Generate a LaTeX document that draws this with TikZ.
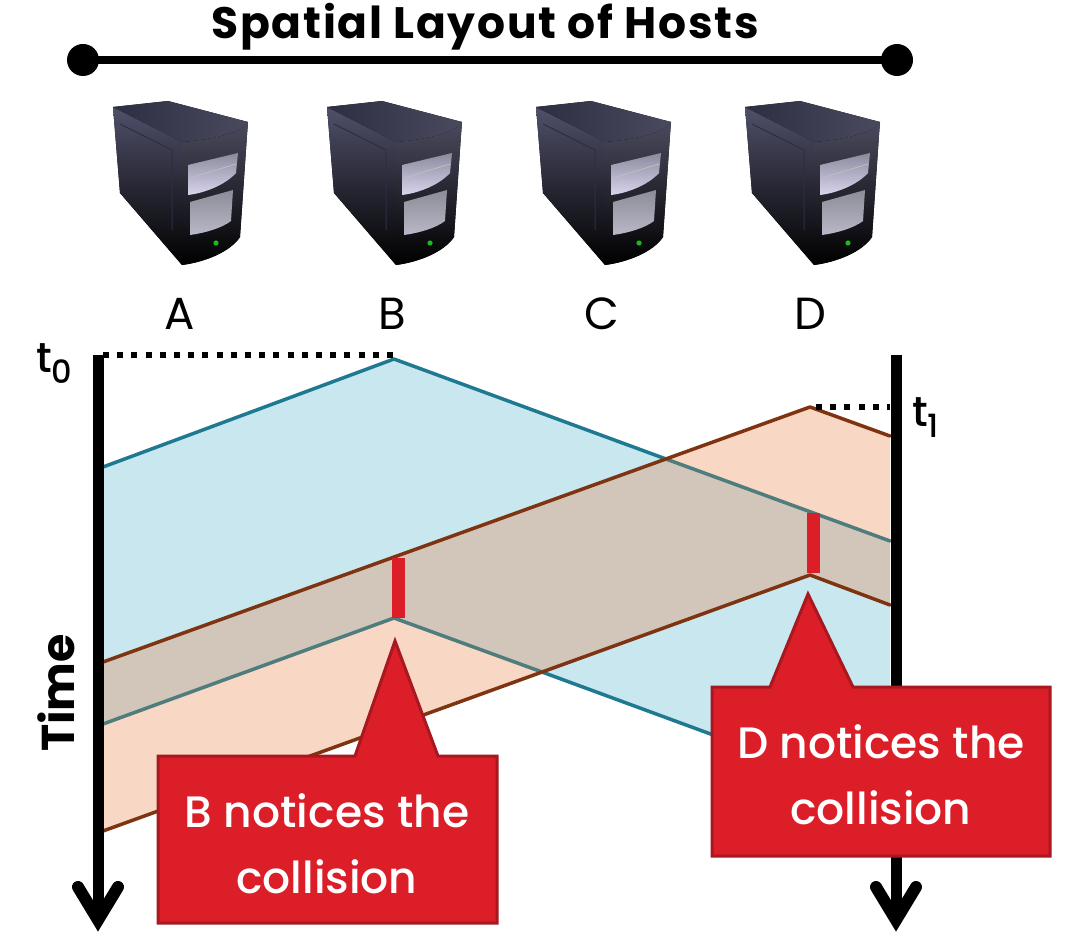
\documentclass[tikz,border=0pt]{standalone}
\usepackage{fontspec}
\setmainfont{Poppins}
\newfontfamily\medfont{Poppins Medium}
\definecolor{bluefill}{HTML}{C8E7EF}
\definecolor{orangefill}{HTML}{F8D7C4}
\definecolor{overlapfill}{HTML}{D2C5B9}
\definecolor{tealline}{HTML}{1F7A91}
\definecolor{tealdark}{HTML}{4F7C7C}
\definecolor{brownline}{HTML}{7E3410}
\definecolor{callred}{HTML}{DC1E28}
\definecolor{calledge}{HTML}{A81820}
\definecolor{hostside}{HTML}{50506A}
\definecolor{hosttopa}{HTML}{2E2E42}
\definecolor{hosttopb}{HTML}{4A4A5E}
\definecolor{hostbaya}{HTML}{8A8A9C}
\definecolor{hostbayb}{HTML}{D8D4EE}
\definecolor{hostbayc}{HTML}{8C8C98}
\definecolor{hostbayd}{HTML}{B8B8C8}
\tikzset{
  x=1pt,y=-1pt,
  every node/.style={inner sep=0pt,outer sep=0pt},
  axisline/.style={line width=11pt,black},
  axishead/.style={line width=12pt,black,line cap=round,miter limit=10},
  dotline/.style={line width=6pt,black,dash pattern=on 6pt off 8.2pt},
  wavet/.style={line width=3.5pt,tealline,line cap=round,line join=round},
  wavetd/.style={line width=3.5pt,tealdark,line cap=round,line join=round},
  waveb/.style={line width=3.5pt,brownline,line cap=round,line join=round},
  redbar/.style={callred},
  callout/.style={fill=callred,draw=calledge,line width=3pt,line join=miter},
  calltext/.style={text=white,font=\medfont\fontsize{44}{66}\selectfont,align=center},
  hostlabel/.style={font=\fontsize{45}{46}\selectfont,anchor=base},
  pics/hostbox/.style={code={
    \fill[black] (23,17) -- (78,11) -- (158,32) -- (157,45) -- (150,147)
      .. controls (140,162) and (115,172) .. (92,175) -- (30,103) -- cycle;
    \path[top color=hostside,bottom color=black]
      (23,17) -- (92,52) -- (92,175) -- (30,103) -- cycle;
    \path[left color=hosttopa,right color=hosttopb]
      (23,17) -- (78,11) -- (158,32) .. controls (150,45) and (115,50) .. (92,52) -- cycle;
    \draw[line width=1pt,hosttopa] (30,34) -- (82,60) -- (82,140);
    \path[top color=hosttopb,bottom color=black]
      (92,52) .. controls (115,50) and (150,45) .. (158,32) -- (157,45) -- (150,147)
      .. controls (140,162) and (115,172) .. (92,175) -- cycle;
    \path[top color=hostbaya,bottom color=hostbayb]
      (98,75) -- (148,63) -- (146,83) .. controls (135,95) and (115,103) .. (98,105) -- cycle;
    \draw[white!75!black,line width=.8pt] (100,88) -- (146,74);
    \path[top color=hostbayc,bottom color=hostbayd]
      (100,112) -- (143,100) -- (141,131) .. controls (132,138) and (115,143) .. (100,145) -- cycle;
    \fill[green!70!black!90!white] (126,153) circle (2.6);
  }}
}
\begin{document}
\begin{tikzpicture}
\useasboundingbox (0,0) rectangle (1065,952);

% spatial layout
\node[font=\bfseries\fontsize{44}{46}\selectfont\addfontfeatures{LetterSpace=4}] (title) at (485,27) {Spatial Layout of Hosts};
\coordinate (sl) at (83,60);
\coordinate (sr) at (897,60);
\draw[line width=8pt] (sl) -- (sr);
\fill (sl) circle (16);
\fill (sr) circle (16);

% hosts
\pic at (90,90) {hostbox};
\pic at (304,90) {hostbox};
\pic at (513,90) {hostbox};
\pic at (722,90) {hostbox};

\node[hostlabel] (la) at (180,329) {A};
\node[hostlabel] (lb) at (392,329) {B};
\node[hostlabel] (lc) at (602,329) {C};
\node[hostlabel] (ld) at (810,329) {D};

% wave coordinates
\coordinate (bApex) at (394,359);
\coordinate (bUL)   at (103,467);
\coordinate (bUR)   at (890,541);
\coordinate (bLApex) at (394,618);
\coordinate (bLL)   at (103,724);
\coordinate (bLR)   at (890,800);
\coordinate (dApex) at (810,407);
\coordinate (dUL)   at (103,662);
\coordinate (dUR)   at (890,436);
\coordinate (dLApex) at (810,575);
\coordinate (dLL)   at (103,831);
\coordinate (dLR)   at (890,605);
\coordinate (xU) at (666,459);
\coordinate (xL) at (542,672);

% fills
\fill[bluefill] (bUL) -- (bApex) -- (bUR) -- (bLR) -- (bLApex) -- (bLL) -- cycle;
\fill[orangefill] (dUL) -- (dApex) -- (dUR) -- (dLR) -- (dLApex) -- (dLL) -- cycle;
\begin{scope}
  \clip (bUL) -- (bApex) -- (bUR) -- (bLR) -- (bLApex) -- (bLL) -- cycle;
  \fill[overlapfill] (dUL) -- (dApex) -- (dUR) -- (dLR) -- (dLApex) -- (dLL) -- cycle;
\end{scope}

% edges
\draw[wavet] (bUL) -- (bApex) -- (xU);
\draw[wavetd] (xU) -- (bUR);
\draw[wavetd] (bLL) -- (bLApex) -- (xL);
\draw[wavet] (xL) -- (bLR);
\draw[waveb] (dUL) -- (dApex) -- (dUR);
\draw[waveb] (dLL) -- (dLApex) -- (dLR);

% detection bars
\fill[redbar] (392,558) rectangle (405,618);
\fill[redbar] (807,513) rectangle (820,573);

% axes
\coordinate (ltop) at (98,355);
\coordinate (lbot) at (98,922);
\coordinate (rtop) at (896,355);
\coordinate (rbot) at (896,922);
\draw[axisline] (ltop) -- (lbot);
\draw[axisline] (rtop) -- (rbot);
\draw[axishead] (78,887) -- (98,920) -- (118,887);
\draw[axishead] (876,887) -- (896,920) -- (916,887);

% dotted guides
\draw[dotline] (103,355) -- (bApex |- 0,355);
\draw[dotline] (dApex) ++(6,0) -- (890,407);

\node[font=\medfont\fontsize{42}{44}\selectfont,anchor=base west] (t0) at (36,372) {t\raisebox{-11pt}{\fontsize{32}{32}\selectfont 0}};
\node[font=\medfont\fontsize{42}{44}\selectfont,anchor=base west] (t1) at (912,426) {t\raisebox{-11pt}{\fontsize{32}{32}\selectfont 1}};
\node[font=\bfseries\fontsize{46}{48}\selectfont,rotate=90] (time) at (56,693) {Time};

% callouts
\draw[callout] (158,756) -- (355,756) -- (395,641) -- (438,756) -- (497,756) -- (497,923) -- (158,923) -- cycle;
\node[calltext] (cb) at (327,844) {B notices the\\collision};
\draw[callout] (712,687) -- (770,687) -- (808,594) -- (853,687) -- (1050,687) -- (1050,856) -- (712,856) -- cycle;
\node[calltext] (cd) at (881,775) {D notices the\\collision};
\end{tikzpicture}
\end{document}
